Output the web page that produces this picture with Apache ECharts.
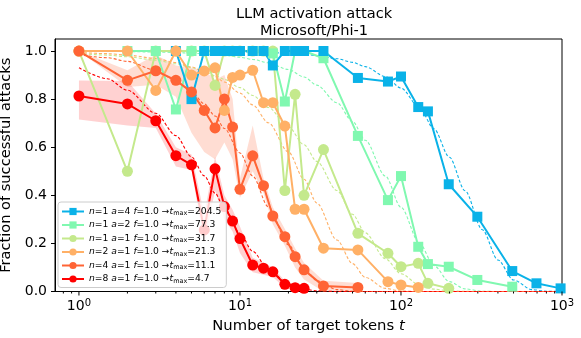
<!DOCTYPE html>
<html>
<head>
<meta charset="utf-8">
<script src="https://cdn.jsdelivr.net/npm/echarts@6/dist/echarts.min.js"></script>
<style>
  html, body { margin: 0; padding: 0; background: #fff; }
  #chart { width: 581px; height: 338px; }
</style>
</head>
<body>
<div id="chart"></div>
<script>
// number of target tokens the runs were evaluated at
const tokens = [1, 2, 3, 4, 5, 6, 7, 8, 9, 10, 12, 14, 16, 19, 22, 25, 33, 54, 83, 100, 128, 147, 198, 298, 491, 694, 980];

// fraction of successful attacks per run (null = not plotted)
const succN1A4 = [null, null, null, 1, 0.80, 1, 1, 1, 1, 1, 1, 1, 0.94, 1, 1, 1, 1, 0.888, 0.873, 0.894, 0.767, 0.749, 0.446, 0.311, 0.085, 0.034, 0.013];
const succN1A2 = [null, 1, 1, 0.757, 1, 1, 1, 1, 1, 1, 1, 1, 0.99, 0.79, 1, 1, 0.97, 0.647, 0.38, 0.48, 0.186, 0.114, 0.103, 0.048, 0.02, null, null];
const succN1A1 = [1, 0.5, 1, 1, 1, 1, 0.857, 1, 1, 1, 1, 1, 1, 0.42, 0.82, 0.40, 0.59, 0.242, 0.159, 0.103, 0.117, 0.034, 0.013, null, null, null, null];
const succN2A1 = [1, 1, 0.836, 1, 0.90, 0.917, 0.93, 0.753, 0.89, 0.90, 0.92, 0.785, 0.785, 0.688, 0.342, 0.342, 0.18, 0.173, 0.041, 0.027, 0.017];
const succN4A1 = [1, 0.878, 0.918, 0.878, 0.83, 0.753, 0.68, 0.80, 0.684, 0.425, 0.564, 0.44, 0.314, 0.228, 0.145, 0.09, 0.023, 0.017];
const succN8A1 = [0.813, 0.78, 0.71, 0.565, 0.527, 0.256, 0.51, 0.353, 0.293, 0.22, 0.11, 0.097, 0.082, 0.03, 0.016, 0.013];

// spread bands for the multi-sample runs
const bandN4Low  = [1, 0.85, 0.86, 0.81, 0.66, 0.58, 0.55, 0.62, 0.55, 0.39, 0.50, 0.41, 0.28, 0.19, 0.10, 0.05, 0.0, 0.0];
const bandN4High = [1, 0.92, 0.985, 0.94, 0.93, 0.92, 0.88, 0.90, 0.80, 0.47, 0.69, 0.47, 0.35, 0.26, 0.18, 0.12, 0.045, 0.035];
const bandN8Low  = [0.715, 0.69, 0.68, 0.52, 0.505, 0.20, 0.42, 0.30, 0.25, 0.16, 0.08, 0.07, 0.06, 0.015, 0.005, 0.0];
const bandN8High = [0.877, 0.875, 0.74, 0.60, 0.57, 0.32, 0.56, 0.40, 0.34, 0.27, 0.14, 0.12, 0.10, 0.045, 0.03, 0.025];

// dashed fitted curves (null = not drawn)
const fitT = [1, 1.5, 2, 3, 4, 5, 6, 7, 8, 10, 12, 15, 20, 25, 30, 40, 50, 60, 80, 100, 130, 160, 200, 250, 320, 400, 500, 650, 800, 1000];
const fitN1A4 = [null, null, null, null, 1, 0.999, 0.999, 0.999, 0.998, 0.997, 0.996, 0.994, 0.991, 0.986, 0.981, 0.968, 0.953, 0.935, 0.894, 0.846, 0.765, 0.677, 0.558, 0.419, 0.257, 0.131, 0.048, 0.008, 0.001, 0];
const fitN1A2 = [null, null, 0.998, 0.996, 0.994, 0.991, 0.988, 0.985, 0.982, 0.974, 0.965, 0.951, 0.923, 0.892, 0.858, 0.785, 0.707, 0.629, 0.480, 0.350, 0.202, 0.108, 0.041, 0.011, 0.001, 0, 0, 0, 0, 0];
const fitN1A1 = [0.990, 0.983, 0.976, 0.962, 0.947, 0.931, 0.915, 0.898, 0.882, 0.848, 0.815, 0.765, 0.685, 0.610, 0.541, 0.420, 0.321, 0.244, 0.136, 0.074, 0.028, 0.010, 0.0025, 0.0004, 0, 0, 0, 0, 0, 0];
const fitN2A1 = [0.994, 0.989, 0.983, 0.969, 0.952, 0.934, 0.914, 0.893, 0.871, 0.825, 0.776, 0.702, 0.580, 0.467, 0.368, 0.214, 0.116, 0.059, 0.013, 0.002, 0, 0, 0, 0, 0, 0, 0, 0, 0, 0];
const fitN4A1 = [0.985, 0.972, 0.957, 0.920, 0.877, 0.830, 0.781, 0.730, 0.678, 0.576, 0.480, 0.352, 0.194, 0.098, 0.045, 0.008, 0.001, 0, 0, 0, 0, 0, 0, 0, 0, 0, 0, 0, 0, 0];
const fitN8A1 = [0.930, 0.885, 0.837, 0.741, 0.648, 0.560, 0.481, 0.409, 0.346, 0.242, 0.167, 0.092, 0.031, 0.010, 0.003, 0, 0, 0, 0, 0, 0, 0, 0, 0, 0, 0, 0, 0, 0, 0];

// legend parameters
const runN = [1, 1, 1, 2, 4, 8];
const runA = [4, 2, 1, 1, 1, 1];
const runF = ['1.0', '1.0', '1.0', '1.0', '1.0', '1.0'];
const runTmax = ['204.5', '77.3', '31.7', '21.3', '11.1', '4.7'];

// x-axis tick positions
const majorTicks = [1, 10, 100, 1000];
const minorTicks = [0.8, 0.9, 2, 3, 4, 5, 6, 7, 8, 9, 20, 30, 40, 50, 60, 70, 80, 90, 200, 300, 400, 500, 600, 700, 800, 900];

const FONT = 'DejaVu Sans';
const runs = [
  { vals: succN1A4, fit: fitN1A4, color: '#0ab2e8', symbol: 'rect', size: 10 },
  { vals: succN1A2, fit: fitN1A2, color: '#80f8b0', symbol: 'rect', size: 10 },
  { vals: succN1A1, fit: fitN1A1, color: '#c4e98c', symbol: 'circle', size: 11 },
  { vals: succN2A1, fit: fitN2A1, color: '#ffb066', symbol: 'circle', size: 11 },
  { vals: succN4A1, fit: fitN4A1, color: '#ff6435', symbol: 'circle', size: 11 },
  { vals: succN8A1, fit: fitN8A1, color: '#ff0000', symbol: 'circle', size: 11 }
];
// stacking order of the plotted runs (a=1, a=2, a=4, then n=2, 4, 8)
const drawOrder = [2, 1, 0, 3, 4, 5];
const names = runN.map((n, i) => 'n=' + n + ' a=' + runA[i] + ' f=' + runF[i] + ' →t_max=' + runTmax[i]);

function pairs(xs, ys) {
  const out = [];
  ys.forEach((v, i) => { if (v != null) out.push([xs[i], v]); });
  return out;
}

// shaded band drawn as one polygon through the axes' scales
function band(low, high, color) {
  return {
    type: 'custom', silent: true, z: 1,
    data: [[tokens[0], low[0]]],
    renderItem: (params, api) => {
      const pts = [];
      for (let i = 0; i < high.length; i++) pts.push(api.coord([tokens[i], high[i]]));
      for (let i = low.length - 1; i >= 0; i--) pts.push(api.coord([tokens[i], low[i]]));
      return { type: 'polygon', shape: { points: pts }, style: { fill: color } };
    }
  };
}

const series = [];
series.push(band(bandN4Low, bandN4High, 'rgba(255,100,53,0.22)'));
series.push(band(bandN8Low, bandN8High, 'rgba(255,0,0,0.18)'));
drawOrder.forEach((i) => {
  const r = runs[i];
  series.push({
    type: 'line', data: pairs(fitT, r.fit), symbol: 'none', smooth: 0.3, smoothMonotone: 'x',
    lineStyle: { color: r.color, width: 1.1, type: [3, 2] }, silent: true, z: 2
  });
});
drawOrder.forEach((i) => {
  const r = runs[i];
  series.push({
    name: names[i], type: 'line', data: pairs(tokens, r.vals),
    symbol: r.symbol, symbolSize: r.size, showSymbol: true,
    lineStyle: { color: r.color, width: 2 }, itemStyle: { color: r.color },
    z: 3
  });
});
function tickSeries(values, len) {
  return {
    type: 'custom', silent: true, clip: false, z: 5,
    data: values.map(t => [t, 0]),
    renderItem: (params, api) => {
      const p = api.coord([api.value(0), 0]);
      return {
        type: 'line',
        shape: { x1: p[0], y1: p[1], x2: p[0], y2: p[1] + len },
        style: { stroke: '#000', lineWidth: 1 }
      };
    }
  };
}
series.push(tickSeries(majorTicks, 4));
series.push(tickSeries(minorTicks, 2));

const chart = echarts.init(document.getElementById('chart'), null, { renderer: 'canvas' });
chart.setOption({
  animation: false,
  title: {
    text: 'LLM activation attack\nMicrosoft/Phi-1',
    left: 309, top: 1, textAlign: 'center',
    textStyle: { fontFamily: FONT, fontSize: 14.6, fontWeight: 'normal', color: '#000', lineHeight: 16.5 }
  },
  grid: {
    left: 55, right: 19, top: 39, bottom: 46.5, outerBoundsMode: 'none',
    show: true, borderColor: '#000', borderWidth: 1
  },
  legend: {
    data: names, orient: 'vertical', left: 58, top: 202,
    itemWidth: 22, itemHeight: 9, itemGap: 2.5,
    padding: [4, 5, 3, 3],
    backgroundColor: 'rgba(255,255,255,0.8)', borderColor: '#cccccc', borderWidth: 1, borderRadius: 3,
    formatter: (name) => {
      const i = names.indexOf(name);
      return '{i|n}=' + runN[i] + ' {i|a}=' + runA[i] + ' {i|f}=' + runF[i] + ' →{i|t}{s|max}=' + runTmax[i];
    },
    textStyle: {
      fontFamily: FONT, fontSize: 9.2, color: '#000', lineHeight: 11,
      rich: {
        i: { fontFamily: FONT, fontSize: 9.2, fontStyle: 'italic', color: '#000', lineHeight: 11 },
        s: { fontFamily: FONT, fontSize: 6.5, color: '#000', lineHeight: 11, verticalAlign: 'bottom', padding: [3, 0, 0, 0] }
      }
    }
  },
  xAxis: {
    type: 'log', logBase: 10, min: 0.71, max: 1000,
    name: 'Number of target tokens {i|t}', nameLocation: 'middle', nameGap: 23,
    nameTextStyle: {
      fontFamily: FONT, fontSize: 14.8, color: '#000',
      rich: { i: { fontFamily: FONT, fontSize: 14.8, fontStyle: 'italic', color: '#000' } }
    },
    axisLine: { show: true, lineStyle: { color: '#000', width: 1 } },
    axisTick: { show: false },
    splitLine: { show: false },
    minorTick: { show: false },
    axisLabel: {
      margin: 7, color: '#000', fontFamily: FONT, fontSize: 14,
      formatter: (v) => {
        const e = Math.round(Math.log10(v));
        if (Math.abs(Math.log10(v) - e) > 1e-6) return '';
        return '{b|10}{e|' + e + '}';
      },
      rich: {
        b: { fontFamily: FONT, fontSize: 14, color: '#000' },
        e: { fontFamily: FONT, fontSize: 10, color: '#000', verticalAlign: 'top', padding: [0, 0, 6, 0] }
      }
    }
  },
  yAxis: {
    type: 'value', min: 0, max: 1.05, interval: 0.2,
    name: 'Fraction of successful attacks', nameLocation: 'middle', nameGap: 30,
    nameTextStyle: { fontFamily: FONT, fontSize: 14.6, color: '#000' },
    axisLine: { show: true, lineStyle: { color: '#000', width: 1 } },
    axisTick: { show: true, length: 4, lineStyle: { color: '#000' }, customValues: [0, 0.2, 0.4, 0.6, 0.8, 1.0] },
    splitLine: { show: false },
    axisLabel: {
      color: '#000', fontFamily: FONT, fontSize: 14, margin: 8,
      customValues: [0, 0.2, 0.4, 0.6, 0.8, 1.0],
      formatter: (v) => v.toFixed(1)
    }
  },
  series: series
});
</script>
</body>
</html>
